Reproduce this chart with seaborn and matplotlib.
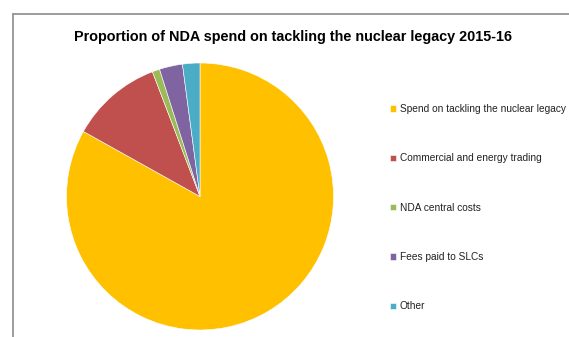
import matplotlib
matplotlib.use("Agg")
import matplotlib.pyplot as plt
import seaborn as sns
from matplotlib.lines import Line2D

categories = ["Spend on tackling the nuclear legacy", "Commercial and energy trading",
              "NDA central costs", "Fees paid to SLCs", "Other"]
values = [83.1, 11.1, 0.9, 2.8, 2.1]
colors = ["#FFC000", "#C0504D", "#9BBB59", "#8064A2", "#4BACC6"]
title = "Proportion of NDA spend on tackling the nuclear legacy 2015-16"

sns.set_theme(style="white")
plt.rcParams['font.family'] = ['Liberation Sans', 'DejaVu Sans']

W, H = 569, 337
fig = plt.figure(figsize=(W / 100, H / 100), dpi=100)
fig.patch.set_facecolor("white")

cx, cy, r = 200, 196.5, 133.5
ax = fig.add_axes([(cx - r) / W, (H - cy - r) / H, 2 * r / W, 2 * r / H])
wedges, _ = ax.pie(values, colors=colors, startangle=90, counterclock=False,
                   radius=1, wedgeprops=dict(edgecolor="white", linewidth=0.4))
ax.set_xlim(-1, 1)
ax.set_ylim(-1, 1)
ax.set_aspect("equal")
ax.axis("off")

fig.text(293 / W, 1 - 37 / H, title, ha="center", va="center",
         fontsize=10.4, fontweight="bold", color="black")

leg = fig.legend(wedges, categories, loc="upper left",
                 bbox_to_anchor=(390 / W, 1 - 104 / H), frameon=False,
                 fontsize=7.3, labelspacing=3.88, handlelength=0.6, handleheight=0.6,
                 handletextpad=0.35, borderaxespad=0, borderpad=0)
for t in leg.get_texts():
    t.set_color("#222222")

# chart frame (top and left border)
fig.add_artist(Line2D([12.5 / W, 1], [1 - 13.5 / H, 1 - 13.5 / H],
                      transform=fig.transFigure, color="#8c8c8c", linewidth=1.2))
fig.add_artist(Line2D([12.5 / W, 12.5 / W], [1 - 13.5 / H, 0],
                      transform=fig.transFigure, color="#8c8c8c", linewidth=1.2))

fig.savefig("out.png", dpi=100, facecolor="white")
